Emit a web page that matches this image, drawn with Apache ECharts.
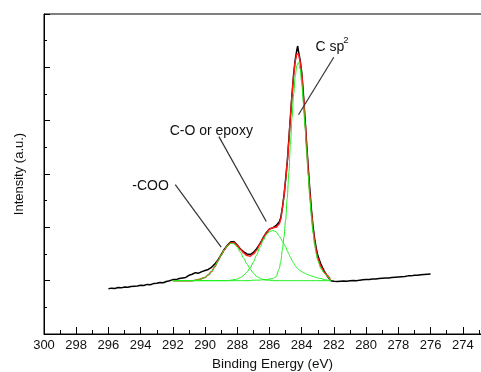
<!DOCTYPE html>
<html>
<head>
<meta charset="utf-8">
<script src="https://cdn.jsdelivr.net/npm/echarts@6/dist/echarts.min.js"></script>
<style>
  html, body { margin: 0; padding: 0; background: #fff; }
  #chart { width: 481px; height: 372px; }
</style>
</head>
<body>
<div id="chart"></div>
<script>
// measured spectrum (binding energy in eV, intensity in a.u.)
const rawE = [
  296.0, 295.8, 295.6, 295.4, 295.2, 295.0, 294.8, 294.6, 294.4, 294.2,
  294.0, 293.8, 293.6, 293.4, 293.2, 293.0, 292.8, 292.6, 292.4, 292.2,
  292.0, 291.8, 291.6, 291.4, 291.2, 291.0, 290.8, 290.6, 290.4, 290.2,
  290.0, 289.8, 289.6, 289.4, 289.2, 289.0, 288.8, 288.6, 288.4, 288.2,
  288.0, 287.8, 287.6, 287.4, 287.2, 287.0, 286.8, 286.6, 286.4, 286.2,
  286.0, 285.8, 285.6, 285.4, 285.3, 285.2, 285.1, 285.0, 284.9, 284.8,
  284.7, 284.6, 284.5, 284.4, 284.3, 284.25, 284.2, 284.1, 284.0, 283.9,
  283.8, 283.7, 283.6, 283.5, 283.4, 283.3, 283.2, 283.1, 283.0, 282.8,
  282.6, 282.4, 282.2, 282.0, 281.8, 281.6, 281.4, 281.2, 281.0, 280.8,
  280.6, 280.4, 280.2, 280.0, 279.8, 279.6, 279.4, 279.2, 279.0, 278.8,
  278.6, 278.4, 278.2, 278.0, 277.8, 277.6, 277.4, 277.2, 277.0, 276.8,
  276.6, 276.4, 276.2, 276.0
];
const rawI = [
  0.85, 0.86, 0.855, 0.87, 0.865, 0.88, 0.875, 0.89, 0.895, 0.90,
  0.915, 0.91, 0.93, 0.925, 0.945, 0.95, 0.965, 0.96, 0.985, 1.00,
  1.02, 1.02, 1.04, 1.05, 1.06, 1.10, 1.12, 1.15, 1.14, 1.17,
  1.19, 1.21, 1.25, 1.31, 1.39, 1.49, 1.59, 1.67, 1.73, 1.73,
  1.67, 1.59, 1.54, 1.50, 1.49, 1.53, 1.60, 1.69, 1.80, 1.90,
  1.97, 1.99, 2.03, 2.10, 2.18, 2.37, 2.60, 2.90, 3.22, 3.64,
  4.08, 4.50, 4.88, 5.15, 5.33, 5.40, 5.30, 5.14, 4.90, 4.52,
  4.07, 3.60, 3.14, 2.72, 2.34, 2.03, 1.79, 1.61, 1.47, 1.30,
  1.18, 1.08, 1.00, 0.99, 0.985, 0.99, 0.995, 0.99, 1.00, 1.005,
  1.00, 1.01, 1.015, 1.02, 1.02, 1.03, 1.03, 1.04, 1.045, 1.05,
  1.05, 1.06, 1.065, 1.07, 1.075, 1.08, 1.09, 1.09, 1.10, 1.10,
  1.11, 1.115, 1.12, 1.125
];

// peak fit, shared energy grid
const fitE = [
  292.0, 291.6, 291.2, 290.8, 290.4, 290.0, 289.8, 289.6, 289.4, 289.2,
  289.0, 288.8, 288.6, 288.4, 288.2, 288.0, 287.8, 287.6, 287.4, 287.2,
  287.0, 286.8, 286.6, 286.4, 286.2, 286.0, 285.8, 285.6, 285.4, 285.3,
  285.2, 285.1, 285.0, 284.9, 284.8, 284.7, 284.6, 284.5, 284.4, 284.3,
  284.2, 284.1, 284.0, 283.9, 283.8, 283.7, 283.6, 283.5, 283.4, 283.3,
  283.2, 283.1, 283.0, 282.8, 282.6, 282.4, 282.2
];
const envelope = [
  1.00, 1.00, 1.00, 1.00, 1.02, 1.06, 1.11, 1.17, 1.26, 1.37,
  1.48, 1.58, 1.66, 1.71, 1.71, 1.66, 1.59, 1.52, 1.47, 1.46,
  1.50, 1.57, 1.68, 1.79, 1.89, 1.97, 1.99, 2.00, 2.06, 2.15,
  2.36, 2.58, 2.88, 3.20, 3.62, 4.07, 4.48, 4.85, 5.12, 5.25,
  5.25, 5.12, 4.88, 4.49, 4.04, 3.55, 3.09, 2.66, 2.29, 1.98,
  1.74, 1.56, 1.42, 1.26, 1.16, 1.09, 1.00
];
const peakCOO = [
  1.00, 1.00, 1.00, 1.00, 1.02, 1.06, 1.11, 1.17, 1.26, 1.37,
  1.48, 1.58, 1.66, 1.70, 1.69, 1.63, 1.53, 1.42, 1.31, 1.22,
  1.14, 1.08, 1.05, 1.02, 1.01, 1.01, 1.00, 1.00, 1.00, 1.00,
  1.00, 1.00, 1.00, 1.00, 1.00, 1.00, 1.00, 1.00, 1.00, 1.00,
  1.00, 1.00, 1.00, 1.00, 1.00, 1.00, 1.00, 1.00, 1.00, 1.00,
  1.00, 1.00, 1.00, 1.00, 1.00, 1.00, 1.00
];
const peakCO = [
  1.00, 1.00, 1.00, 1.00, 1.00, 1.00, 1.00, 1.00, 1.00, 1.00,
  1.00, 1.00, 1.00, 1.01, 1.02, 1.03, 1.06, 1.10, 1.16, 1.24,
  1.35, 1.48, 1.62, 1.75, 1.86, 1.92, 1.94, 1.92, 1.84, 1.79,
  1.74, 1.69, 1.63, 1.56, 1.50, 1.44, 1.38, 1.33, 1.28, 1.24,
  1.21, 1.19, 1.17, 1.15, 1.14, 1.12, 1.11, 1.10, 1.09, 1.08,
  1.07, 1.06, 1.05, 1.04, 1.02, 1.01, 1.00
];
const peakSp2 = [
  1.00, 1.00, 1.00, 1.00, 1.00, 1.00, 1.00, 1.00, 1.00, 1.00,
  1.00, 1.00, 1.00, 1.00, 1.00, 1.00, 1.00, 1.00, 1.00, 1.00,
  1.01, 1.01, 1.01, 1.02, 1.02, 1.03, 1.04, 1.07, 1.22, 1.36,
  1.58, 1.82, 2.13, 2.54, 3.02, 3.56, 4.06, 4.50, 4.84, 5.04,
  5.09, 4.97, 4.71, 4.34, 3.90, 3.43, 2.98, 2.56, 2.20, 1.90,
  1.67, 1.50, 1.37, 1.22, 1.14, 1.08, 1.00
];

// axes
const xMin = 272, xMax = 300, xStep = 2;
const yMin = 0, yMax = 6, yStep = 1;

// annotations, in data units
const noteText = ['-COO', 'C-O or epoxy', 'C sp'];
const noteAt = [[294.52, 2.78], [292.2, 3.80], [283.15, 5.38]];
const noteFrom = [[291.85, 2.80], [289.14, 3.70], [282.01, 5.19]];
const noteTo = [[289.0, 1.63], [286.2, 2.11], [284.2, 4.11]];
const supAt = [281.42, 5.50];

const FONT = '"Liberation Sans", Arial, sans-serif';
const pair = (xs, ys) => xs.map((x, i) => [x, ys[i]]);

const chart = echarts.init(document.getElementById('chart'));

const fitLine = (name, ys, color, width, z) => ({
  name,
  type: 'line',
  data: pair(fitE, ys),
  showSymbol: false,
  smooth: 0.3,
  smoothMonotone: 'x',
  lineStyle: { color, width },
  z,
  animation: false
});

chart.setOption({
  animation: false,
  grid: {
    left: 44, right: -14, top: 14, bottom: 38,
    outerBoundsMode: 'none',
    containLabel: false,
    show: true, borderColor: '#000', borderWidth: 1
  },
  xAxis: {
    type: 'value',
    min: xMin, max: xMax, interval: xStep,
    inverse: true,
    name: 'Binding Energy (eV)',
    nameLocation: 'middle',
    nameGap: 23,
    nameTextStyle: { fontSize: 13.5, color: '#111', fontFamily: FONT, padding: [0, 0, 0, 6] },
    axisLine: { lineStyle: { color: '#000', width: 1 } },
    axisTick: { inside: true, length: 7, lineStyle: { color: '#000' } },
    minorTick: { show: true, splitNumber: 2, length: 4, lineStyle: { color: '#000' } },
    axisLabel: { fontSize: 13, color: '#111', fontFamily: FONT, margin: 5 },
    splitLine: { show: false }
  },
  yAxis: {
    type: 'value',
    min: yMin, max: yMax, interval: yStep,
    name: 'Intensity (a.u.)',
    nameLocation: 'middle',
    nameGap: 18,
    nameTextStyle: { fontSize: 13, color: '#111', fontFamily: FONT },
    axisLine: { show: true, lineStyle: { color: '#000', width: 1 } },
    axisTick: { inside: true, length: 6, lineStyle: { color: '#000' } },
    minorTick: { show: true, splitNumber: 2, length: 3, lineStyle: { color: '#000' } },
    axisLabel: { show: false },
    splitLine: { show: false }
  },
  series: [
    {
      name: 'data',
      type: 'line',
      data: pair(rawE, rawI),
      showSymbol: false,
      lineStyle: { color: '#000', width: 1.5 },
      z: 2
    },
    fitLine('envelope', envelope, '#ff1a1a', 1.5, 3),
    fitLine('-COO', peakCOO, '#19f019', 1, 4),
    fitLine('C-O', peakCO, '#19f019', 1, 4),
    fitLine('C sp2', peakSp2, '#19f019', 1, 4)
  ]
});

const px = (p) => chart.convertToPixel({ gridIndex: 0 }, p);
const graphics = [];
noteText.forEach((t, i) => {
  const a = px(noteAt[i]);
  const f = px(noteFrom[i]);
  const b = px(noteTo[i]);
  graphics.push({
    type: 'text', x: a[0], y: a[1], z: 10,
    style: { text: t, fontSize: 14, fontFamily: FONT, fill: '#111', align: 'left', verticalAlign: 'middle' }
  });
  graphics.push({
    type: 'line', z: 10,
    shape: { x1: f[0], y1: f[1], x2: b[0], y2: b[1] },
    style: { stroke: '#333', lineWidth: 1.2 }
  });
});
const s = px(supAt);
graphics.push({
  type: 'text', x: s[0], y: s[1], z: 10,
  style: { text: '2', fontSize: 9.5, fontFamily: FONT, fill: '#111', align: 'left', verticalAlign: 'middle' }
});
chart.setOption({ graphic: graphics });

window.onresize = () => chart.resize();
</script>
</body>
</html>
